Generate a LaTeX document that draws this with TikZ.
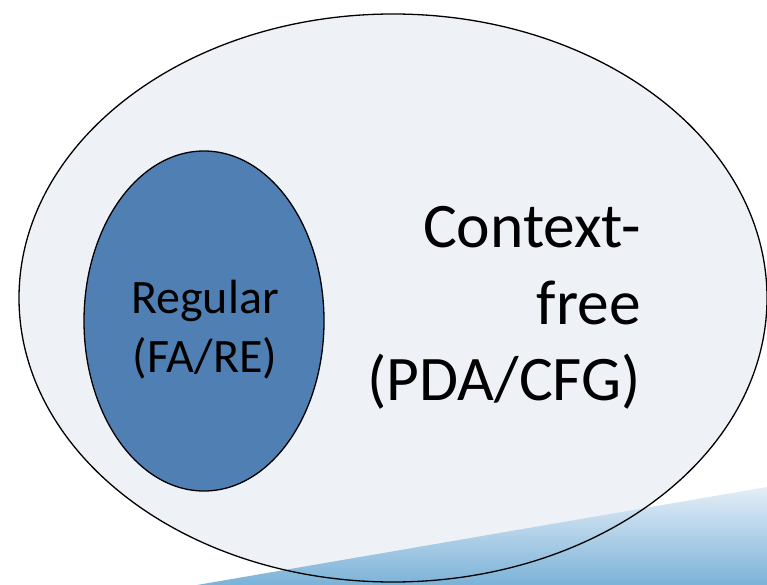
\documentclass[tikz,border=0pt]{standalone}
\usepackage{fontspec}
\usetikzlibrary{shapes.geometric}
\setmainfont{Carlito}
\definecolor{outerfill}{HTML}{EEF2F7}
\definecolor{innerfill}{HTML}{5080B3}
\definecolor{gradtop}{HTML}{E4EEF7}
\definecolor{gradbot}{HTML}{7BB2D8}
\tikzset{
  setshape/.style={draw=black, line width=1.3pt},
  smalltext/.style={font=\fontsize{48}{58}\selectfont, inner sep=0pt, anchor=base},
  bigtext/.style={font=\fontsize{63.5}{76}\selectfont, inner sep=0pt, anchor=base east}
}
\begin{document}
\begin{tikzpicture}[x=1pt,y=-1pt]
\useasboundingbox (0,0) rectangle (767,585);
% outer set fill
\fill[outerfill] (393,298) ellipse [x radius=374, y radius=284];
% gradient band
\shade[top color=gradtop, bottom color=gradbot] (197,585) -- (767,487) -- (767,585) -- cycle;
% outer set border
\draw[setshape] (393,298) ellipse [x radius=374, y radius=284];
% inner set
\node[setshape, fill=innerfill, ellipse, minimum width=240pt, minimum height=340pt, inner sep=0pt] (reg) at (204,321) {};
\node[smalltext] (r1) at (205,313) {Regular};
\node[smalltext] (r2) at (205,372) {(FA/RE)};
\node[bigtext] (c1) at (641,247) {Context-};
\node[bigtext] (c2) at (641,324) {free};
\node[bigtext] (c3) at (641,400) {(PDA/CFG)};
\end{tikzpicture}
\end{document}
